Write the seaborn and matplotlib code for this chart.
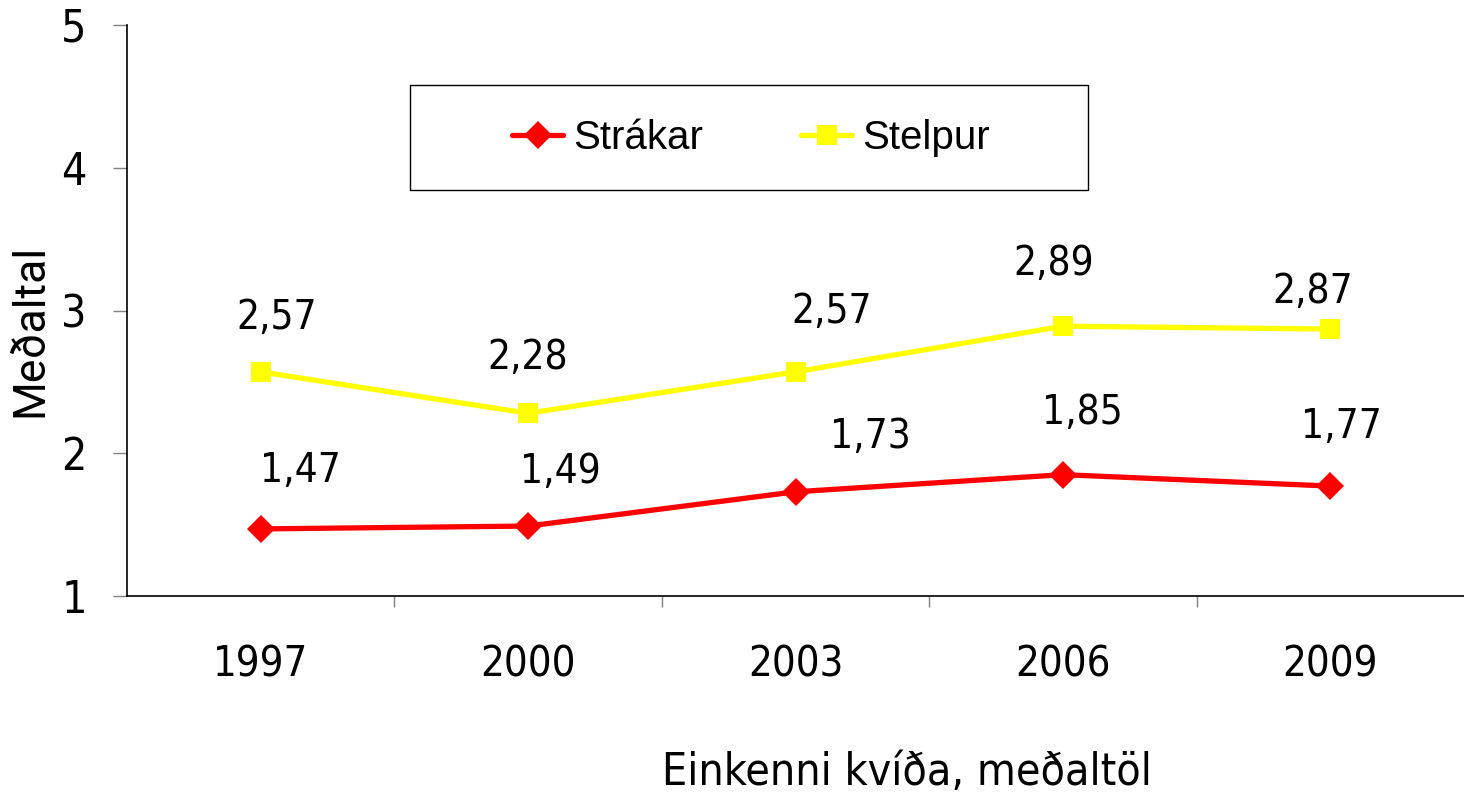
import matplotlib
matplotlib.use("Agg")
import matplotlib.pyplot as plt
import seaborn as sns
import pandas as pd
from matplotlib.ticker import FixedLocator
from matplotlib.lines import Line2D
from matplotlib.patches import Rectangle

years = ["1997", "2000", "2003", "2006", "2009"]
strakar = [1.47, 1.49, 1.73, 1.85, 1.77]
stelpur = [2.57, 2.28, 2.57, 2.89, 2.87]
series_names = ["Strákar", "Stelpur"]
y_ticks = [1, 2, 3, 4, 5]
xlabel = "Einkenni kvíða, meðaltöl"
ylabel = "Meðaltal"

# label offsets in pixels (dx, dy) for the value annotations
off_strakar = [(40, 58), (32, 54), (75, 55), (19, 62), (11, 59)]
off_stelpur = [(16, 54), (0, 55), (36, 60), (-9, 62), (-18, 37)]

sns.set_theme(style="white")
plt.rcParams["font.family"] = ["DejaVu Sans"]
plt.rcParams["text.color"] = "black"
plt.rcParams["axes.labelcolor"] = "black"
plt.rcParams["xtick.color"] = "black"
plt.rcParams["ytick.color"] = "black"

COND = dict(family="DejaVu Sans", stretch="condensed")

df = pd.DataFrame({
    "x": list(range(len(years))) * 2,
    "val": strakar + stelpur,
    "series": [series_names[0]] * len(years) + [series_names[1]] * len(years),
})

W, H = 1464, 795
fig = plt.figure(figsize=(W / 100, H / 100), dpi=100)
ax = fig.add_axes([127 / W, 1 - 596 / H, 1 - 127 / W, (596 - 25) / H])

palette = {series_names[0]: "#ff0000", series_names[1]: "#ffff00"}
markers = {series_names[0]: "D", series_names[1]: "s"}
msize = {series_names[0]: 14, series_names[1]: 15}
sns.lineplot(data=df, x="x", y="val", hue="series", style="series",
             palette=palette, markers=markers, dashes=False, linewidth=3.8,
             markersize=15, markeredgewidth=0, ax=ax, legend=False)
for line in ax.get_lines():
    if line.get_marker() == "D":
        line.set_markersize(14)

# value labels
px = 72 / 100.0
for vals, offs in ((strakar, off_strakar), (stelpur, off_stelpur)):
    for i, (v, (dx, dy)) in enumerate(zip(vals, offs)):
        ax.annotate(f"{v:.2f}".replace(".", ","), (i, v),
                    xytext=(dx * px, dy * px), textcoords="offset points",
                    ha="center", va="center", fontsize=29, color="black",
                    **COND)

ax.set_xlim(-0.5, len(years) - 0.5)
ax.set_ylim(1, 5)
ax.set_xticks(range(len(years)))
ax.set_xticklabels(years, fontsize=30, **COND)
ax.xaxis.set_minor_locator(FixedLocator([i + 0.5 for i in range(len(years) - 1)]))
ax.tick_params(axis="x", which="major", length=0, pad=34)
ax.tick_params(axis="x", which="minor", length=8, width=1, color="#808080",
               direction="out", bottom=True)
ax.set_yticks(y_ticks)
ax.set_yticklabels([str(t) for t in y_ticks], fontsize=32, **COND)
ax.tick_params(axis="y", length=10, width=1, color="#808080", direction="out",
               left=True, pad=19)

for s in ["top", "right"]:
    ax.spines[s].set_visible(False)
for s in ["left", "bottom"]:
    ax.spines[s].set_color("black")
    ax.spines[s].set_linewidth(1.2)

ax.set_xlabel("")
ax.set_ylabel(ylabel, fontsize=32, family="Roboto", color="black")
ax.yaxis.set_label_coords((51 - 127) / (W - 127), (596 - 330) / (596 - 25))

fig.text(907 / W, 1 - 773 / H, xlabel, ha="center", va="center",
         fontsize=32, **COND)

# legend box (drawn frame) and legend entries
fig.add_artist(Rectangle((410 / W, 1 - 190 / H), (1088 - 410) / W, (190 - 85) / H,
                         transform=fig.transFigure, fill=False,
                         edgecolor="black", linewidth=1.0))
handles = [Line2D([], [], color=palette[n], marker=markers[n],
                  markersize=msize[n], markeredgewidth=0, linewidth=3.8)
           for n in series_names]
leg = fig.legend(handles, series_names, loc="center",
                 bbox_to_anchor=((512 + 990) / 2 / W, 1 - 138 / H),
                 ncol=2, frameon=False,
                 prop={"family": "Liberation Sans", "size": 29},
                 handlelength=1.25, handletextpad=0.25, columnspacing=2.45,
                 borderpad=0, borderaxespad=0)
for t in leg.get_texts():
    t.set_color("black")

fig.savefig("out.png", dpi=100)
